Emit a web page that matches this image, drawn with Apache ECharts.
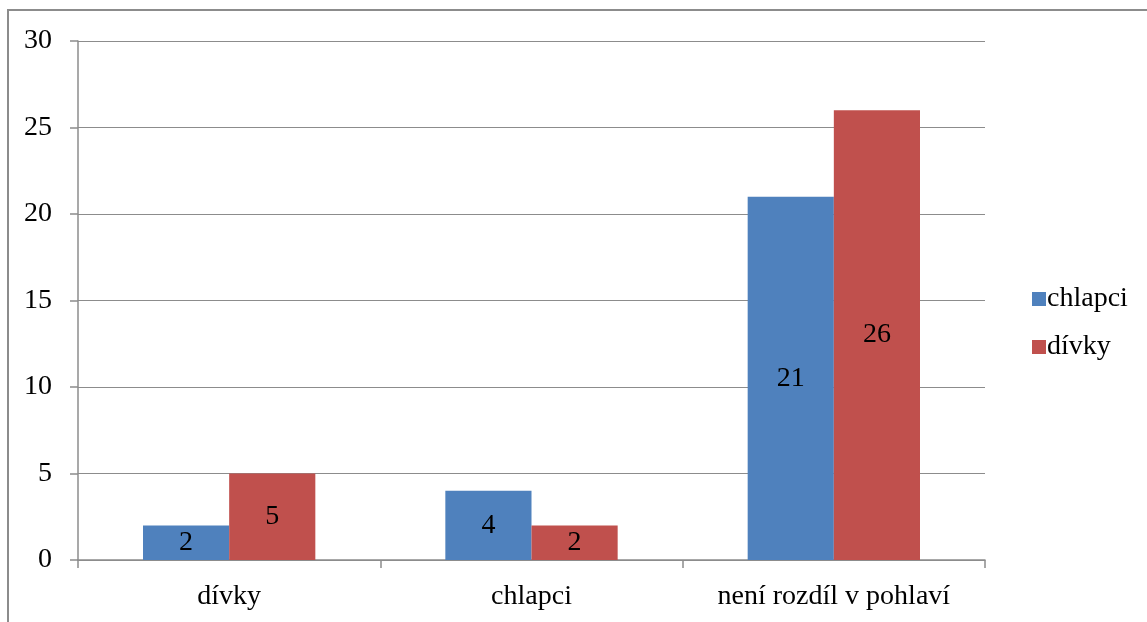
<!DOCTYPE html>
<html>
<head>
<meta charset="utf-8">
<script src="https://cdn.jsdelivr.net/npm/echarts@6/dist/echarts.min.js"></script>
<style>
  html, body { margin: 0; padding: 0; background: #fff; }
  .frame {
    position: absolute; left: 7px; top: 9px; width: 1160px; height: 640px;
    border-top: 2px solid #8c8c8c; border-left: 2px solid #8c8c8c;
  }
  #chart { position: absolute; left: 0; top: 0; width: 1147px; height: 622px; }
</style>
</head>
<body>
<div class="frame"></div>
<div id="chart"></div>
<script>
const categories = ["dívky", "chlapci", "není rozdíl v pohlaví"];
const chlapci = [2, 4, 21];
const divky = [5, 2, 26];
const yTicks = [0, 5, 10, 15, 20, 25, 30];

const font = "'Liberation Serif', 'Times New Roman', serif";
const gray = "#8c8c8c";
const fs = 28;

const myChart = echarts.init(document.getElementById("chart"));

const option = {
  animation: false,
  textStyle: { fontFamily: font },
  legend: {
    orient: "vertical",
    left: 1027,
    top: 280,
    itemWidth: 14,
    itemHeight: 14,
    itemGap: 20,
    icon: "rect",
    textStyle: { fontFamily: font, fontSize: fs, color: "#000", padding: [0, 0, 0, -4] },
    data: ["chlapci", "dívky"],
  },
  grid: { left: 78, top: 41, right: 162, bottom: 62 },
  xAxis: {
    type: "category",
    data: categories,
    axisLine: { lineStyle: { color: gray, width: 1.5 } },
    axisTick: { show: true, length: 8, lineStyle: { color: gray, width: 1.5 } },
    axisLabel: { fontFamily: font, fontSize: fs, color: "#000", margin: 23 },
  },
  yAxis: {
    type: "value",
    min: yTicks[0],
    max: yTicks[yTicks.length - 1],
    interval: 5,
    axisLine: { show: true, lineStyle: { color: gray, width: 1.5 } },
    axisTick: { show: true, length: 8, lineStyle: { color: gray, width: 1.5 } },
    splitLine: { lineStyle: { color: gray, width: 1.2 } },
    axisLabel: { fontFamily: font, fontSize: fs, color: "#000", margin: 26 },
  },
  series: [
    {
      name: "chlapci",
      type: "bar",
      data: chlapci,
      barGap: "0%",
      barCategoryGap: "43%",
      itemStyle: { color: "#4f81bd" },
      label: { show: true, position: "inside", fontFamily: font, fontSize: fs, color: "#000" },
    },
    {
      name: "dívky",
      type: "bar",
      data: divky,
      itemStyle: { color: "#c0504d" },
      label: { show: true, position: "inside", fontFamily: font, fontSize: fs, color: "#000" },
    },
  ],
};

myChart.setOption(option);
</script>
</body>
</html>
